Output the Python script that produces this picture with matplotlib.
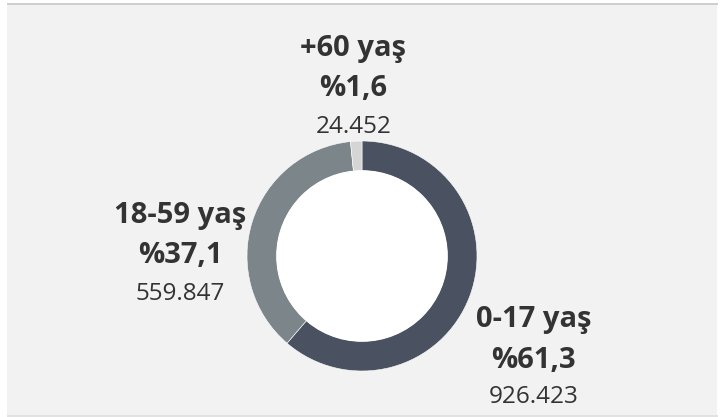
import matplotlib
matplotlib.use("Agg")
import matplotlib.pyplot as plt
from matplotlib.patches import Rectangle

categories = ["0-17 yaş", "18-59 yaş", "+60 yaş"]
percents = [61.3, 37.1, 1.6]
pct_labels = ["%61,3", "%37,1", "%1,6"]
counts = ["926.423", "559.847", "24.452"]
colors = ["#4a5261", "#7b858a", "#d5d5d5"]

W, H = 722, 417
fig = plt.figure(figsize=(W / 100, H / 100), dpi=100)
fig.patch.set_facecolor("white")

def px(x, y):
    return x / W, 1 - y / H

# panel background
fig.patches.append(Rectangle(px(7, 415), (717 - 7) / W, (415 - 4) / H,
                             transform=fig.transFigure, facecolor="#f2f2f2",
                             edgecolor="none", zorder=0))
fig.patches.append(Rectangle(px(7, 5), (718 - 7) / W, 2 / H,
                             transform=fig.transFigure, facecolor="#cfcfcf",
                             edgecolor="none", zorder=0))
fig.patches.append(Rectangle(px(7, 416.5), (718 - 7) / W, 1.5 / H,
                             transform=fig.transFigure, facecolor="#e2e2e2",
                             edgecolor="none", zorder=0))

cx, cy, r = 362, 256, 115
ax = fig.add_axes([(cx - r) / W, (H - cy - r) / H, 2 * r / W, 2 * r / H])
ax.set_zorder(3)
ax.patch.set_visible(False)
ax.pie(percents, colors=colors, startangle=90, counterclock=False, radius=1,
       wedgeprops=dict(width=0.26, edgecolor="white", linewidth=0.4))
ax.add_patch(plt.Circle((0, 0), 0.74, color="white", zorder=5))
ax.set_xlim(-1, 1)
ax.set_ylim(-1, 1)
ax.set_aspect("equal")
ax.axis("off")

fam = ["Open Sans", "DejaVu Sans"]
label_x = [533.5, 180.5, 353.5]
baselines = [(327, 368, 403), (223, 263, 300), (56, 96, 133)]
for x, (b1, b2, b3), cat, pl, cnt in zip(label_x, baselines, categories,
                                         pct_labels, counts):
    fig.text(*px(x, b1), cat, ha="center", va="baseline", fontsize=21,
             fontweight="bold", color="#333333", family=fam, zorder=4)
    fig.text(*px(x, b2), pl, ha="center", va="baseline", fontsize=21,
             fontweight="bold", color="#333333", family=fam, zorder=4)
    fig.text(*px(x, b3), cnt, ha="center", va="baseline", fontsize=17.5,
             color="#333333", family=fam, zorder=4)

fig.savefig("out.png", dpi=100)
